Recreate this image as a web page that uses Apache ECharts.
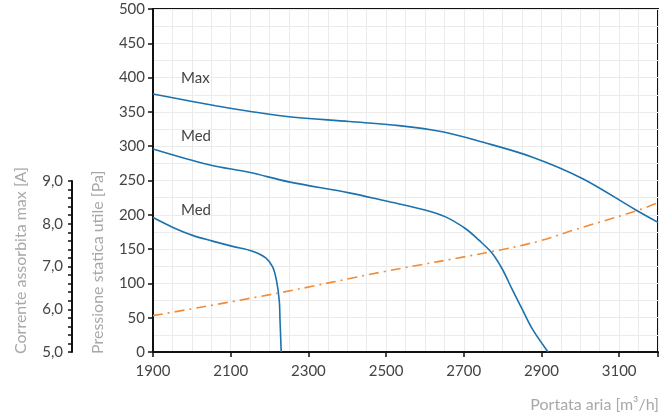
<!DOCTYPE html>
<html>
<head>
<meta charset="utf-8">
<script src="https://cdn.jsdelivr.net/npm/echarts@6/dist/echarts.min.js"></script>
<style>
  html, body { margin: 0; padding: 0; background: #fff; }
  #chart { width: 664px; height: 414px; }
</style>
</head>
<body>
<div id="chart"></div>
<script>
// Fan curves: static pressure [Pa] versus air flow [m³/h]
const maxFlow = [1900, 2061, 2147, 2250, 2405, 2533, 2645, 2748, 2877, 3005, 3143, 3200];
const maxPressure = [376, 359, 351, 343, 336, 330, 321, 306, 284, 253, 207, 189];

const medFlow = [1900, 2044, 2147, 2250, 2405, 2500, 2600, 2653, 2704, 2739, 2773, 2799, 2824, 2850, 2876, 2917];
const medPressure = [296, 273, 262, 248, 232, 220, 207, 197, 180, 163, 144, 121, 92, 63, 34, 0];

const lowFlow = [1900, 1950, 2002, 2051, 2105, 2156, 2191, 2208, 2218, 2225, 2227, 2230];
const lowPressure = [196, 182, 170, 162, 154, 147, 137, 124, 104, 75, 46, 0];

// Absorbed current [A] versus air flow
const ampFlow = [1900, 2217, 2500, 2767, 2896, 2982, 3137, 3200];
const ampValue = [5.85, 6.37, 6.89, 7.34, 7.60, 7.85, 8.28, 8.49];

const flowTicks = [1900, 2100, 2300, 2500, 2700, 2900, 3100];
const curveNames = ['Max', 'Med', 'Med'];

const FONT = 'Lato, "Open Sans", sans-serif';
const BLUE = '#1b72ad';
const ORANGE = '#f28b36';
const FLOW_MIN = 1900, FLOW_MAX = 3200;

const pairs = (xs, ys) => xs.map((x, i) => [x, ys[i]]);

const chart = echarts.init(document.getElementById('chart'), null, { renderer: 'canvas' });

const curve = (name, xs, ys) => ({
  name, type: 'line', xAxisIndex: 0, yAxisIndex: 0,
  data: pairs(xs, ys), smooth: 0.35, showSymbol: false,
  lineStyle: { color: BLUE, width: 1.6 }, z: 3
});

const option = {
  backgroundColor: '#fff',
  animation: false,
  grid: [
    { left: 153, right: 6, top: 9, bottom: 62, show: true, borderColor: '#111', borderWidth: 2, backgroundColor: 'transparent' },
    { left: 153, right: 6, top: 181, bottom: 62, show: false }
  ],
  xAxis: [
    {
      type: 'value', gridIndex: 0, min: FLOW_MIN, max: FLOW_MAX, interval: 200,
      axisLine: { show: true, lineStyle: { color: '#111', width: 2 } },
      axisTick: { show: true, length: 5, lineStyle: { color: '#111', width: 1.5 } },
      axisLabel: {
        color: '#444', fontFamily: FONT, fontSize: 15, margin: 12,
        formatter: v => flowTicks.includes(v) ? String(v) : ''
      },
      splitLine: { show: false }
    },
    {
      // fine background grid every 50 m³/h
      type: 'value', gridIndex: 0, min: FLOW_MIN, max: FLOW_MAX, interval: 50,
      axisLine: { show: false }, axisTick: { show: false }, axisLabel: { show: false },
      splitLine: { show: true, lineStyle: { color: '#ebebeb', width: 1 } }
    },
    {
      type: 'value', gridIndex: 1, min: FLOW_MIN, max: FLOW_MAX, show: false
    }
  ],
  yAxis: [
    {
      type: 'value', gridIndex: 0, min: 0, max: 500, interval: 50,
      axisLine: { show: true, lineStyle: { color: '#111', width: 2 } },
      axisTick: { show: true, length: 5, lineStyle: { color: '#111', width: 1.5 } },
      axisLabel: { color: '#444', fontFamily: FONT, fontSize: 15, margin: 8 },
      splitLine: { show: true, lineStyle: { color: '#ebebeb', width: 1 } },
      minorTick: { show: false, splitNumber: 2 },
      minorSplitLine: { show: true, lineStyle: { color: '#ebebeb', width: 1 } }
    },
    {
      type: 'value', gridIndex: 1, min: 5, max: 9, interval: 1,
      position: 'left', offset: 81,
      axisLine: { show: true, lineStyle: { color: '#111', width: 2 } },
      axisTick: { show: true, length: 4, lineStyle: { color: '#111', width: 1.5 } },
      minorTick: { show: true, splitNumber: 5, length: 4, lineStyle: { color: '#111', width: 1.5 } },
      axisLabel: {
        color: '#444', fontFamily: FONT, fontSize: 15, margin: 9,
        formatter: v => v.toFixed(1).replace('.', ',')
      },
      splitLine: { show: false }
    }
  ],
  series: [
    curve(curveNames[0], maxFlow, maxPressure),
    curve(curveNames[1], medFlow, medPressure),
    curve(curveNames[2], lowFlow, lowPressure),
    {
      name: 'Corrente', type: 'line', xAxisIndex: 2, yAxisIndex: 1,
      data: pairs(ampFlow, ampValue), smooth: 0.4, showSymbol: false,
      lineStyle: { color: ORANGE, width: 1.6, type: [10, 5, 2, 5] }, z: 3
    }
  ],
  graphic: [
    { type: 'text', z: 100, left: 181, top: 71, style: { text: curveNames[0], font: '15px ' + FONT, fill: '#444' } },
    { type: 'text', z: 100, left: 181, top: 129, style: { text: curveNames[1], font: '15px ' + FONT, fill: '#444' } },
    { type: 'text', z: 100, left: 181, top: 203, style: { text: curveNames[2], font: '15px ' + FONT, fill: '#444' } },
    {
      type: 'text', z: 100, x: 21, y: 354, rotation: Math.PI / 2,
      style: { text: 'Corrente assorbita max [A]', font: '16px ' + FONT, fill: '#a8a8a8', textAlign: 'left', textVerticalAlign: 'middle' }
    },
    {
      type: 'text', z: 100, x: 98, y: 354, rotation: Math.PI / 2,
      style: { text: 'Pressione statica utile [Pa]', font: '16px ' + FONT, fill: '#a8a8a8', textAlign: 'left', textVerticalAlign: 'middle' }
    },
    {
      type: 'text', z: 100, x: 659, y: 405,
      style: { text: 'Portata aria [m³/h]', font: '16px ' + FONT, fill: '#a8a8a8', textAlign: 'right', textVerticalAlign: 'middle' }
    }
  ]
};

chart.setOption(option);
</script>
</body>
</html>
